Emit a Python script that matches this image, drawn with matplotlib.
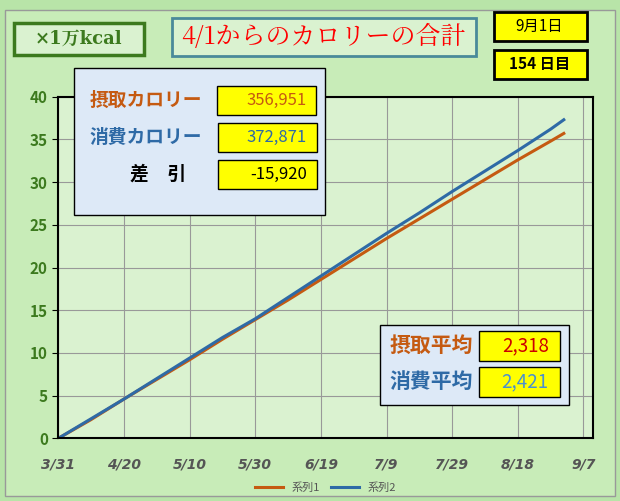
import matplotlib
matplotlib.use("Agg")
import matplotlib.pyplot as plt
from matplotlib.patches import Rectangle
import numpy as np

plt.rcParams['font.family'] = ['Noto Sans CJK JP', 'DejaVu Sans']

days = [0, 10, 20, 30, 40, 50, 60, 70, 80, 90, 100, 110, 120, 130, 140, 150, 154]
series1 = [0, 2.2, 4.6, 6.9, 9.2, 11.6, 13.9, 16.2, 18.6, 21.0, 23.4, 25.7, 28.0, 30.3, 32.6, 34.8, 35.7]
series2 = [0, 2.3, 4.6, 7.0, 9.4, 11.8, 14.0, 16.5, 19.0, 21.5, 24.0, 26.4, 28.9, 31.3, 33.7, 36.2, 37.3]
xticks = [0, 20, 40, 60, 80, 100, 120, 140, 160]
xlabels = ['3/31', '4/20', '5/10', '5/30', '6/19', '7/9', '7/29', '8/18', '9/7']
names = ['系列1', '系列2']
colors = ['#c55a11', '#2e6aa6']

fig = plt.figure(figsize=(6.2, 5.01), dpi=100)
fig.patch.set_facecolor('#b8e4a8')
fig.add_artist(Rectangle((0.008, 0.01), 0.984, 0.97, transform=fig.transFigure,
                         facecolor='#c8ecb8', edgecolor='#999999', lw=1, zorder=-10))
ax = fig.add_axes([0.094, 0.125, 0.863, 0.682])
ax.set_facecolor('#daf2d0')
for s, c, n in zip([series1, series2], colors, names):
    ax.plot(days, s, color=c, lw=2.2, label=n)
ax.set_xlim(0, 163)
ax.set_ylim(0, 40)
ax.set_yticks(range(0, 41, 5))
ax.set_xticks(xticks)
ax.set_xticklabels(xlabels, style='italic', fontweight='bold', color='#555555', fontsize=10, family='DejaVu Sans')
ax.tick_params(axis='y', labelcolor='#3c7a1e', labelsize=11, length=4)
for l in ax.get_yticklabels():
    l.set_fontweight('bold')
ax.tick_params(axis='x', length=0, pad=14)
ax.grid(True, color='#999999', lw=0.8)
for sp in ax.spines.values():
    sp.set_color('black'); sp.set_linewidth(1.5)
ax.legend(loc='upper center', bbox_to_anchor=(0.5, -0.1), ncol=2, frameon=False,
          fontsize=8, labelcolor='#555555', handlelength=2.5, columnspacing=1)

def box(x, y, w, h, fc, ec, lw=1.5, tr=fig.transFigure):
    fig.add_artist(Rectangle((x, y), w, h, transform=tr, facecolor=fc, edgecolor=ec, lw=lw, zorder=5))

def txt(*a, **k):
    k.setdefault('zorder', 6)
    fig.text(*a, **k)

# top labels
box(0.022, 0.89, 0.21, 0.065, '#daf2d0', '#3c7a1e', 2.5)
txt(0.127, 0.922, '×1万kcal', ha='center', va='center', fontsize=13, color='#3c7a1e',
    fontweight='bold', family=['DejaVu Serif', 'Noto Serif CJK JP', 'Noto Sans CJK JP'])
box(0.277, 0.888, 0.49, 0.077, '#daf2d0', '#4a8a9a', 2)
txt(0.522, 0.926, '4/1からのカロリーの合計', ha='center', va='center', fontsize=18, color='red',
    family=['Noto Serif CJK JP', 'Noto Sans CJK JP'])
box(0.797, 0.918, 0.15, 0.058, 'yellow', 'black', 2)
txt(0.87, 0.947, '9月1日', ha='center', va='center', fontsize=11)
box(0.797, 0.843, 0.15, 0.058, 'yellow', 'black', 2)
txt(0.87, 0.872, '154 日目', ha='center', va='center', fontsize=11, fontweight='bold')

# stats box top
box(0.119, 0.570, 0.405, 0.295, '#dde9f7', 'black', 1)
rows = [('摂取カロリー', '356,951', '#c55a11', '#c55a11'),
        ('消費カロリー', '372,871', '#2e6aa6', '#2e6aa6'),
        ('差　引', '-15,920', 'black', 'black')]
for i, (lab, val, lc, vc) in enumerate(rows):
    yc = 0.800 - i * 0.074
    txt(0.235 if i < 2 else 0.255, yc, lab, ha='center', va='center', fontsize=13.5,
        color=lc, fontweight='bold')
    box(0.35 + 0.001 * i, yc - 0.029, 0.16, 0.058, 'yellow', 'black', 1)
    txt(0.495, yc, val, ha='right', va='center', fontsize=12, color=vc)

# stats box bottom
box(0.613, 0.191, 0.305, 0.16, '#dde9f7', 'black', 1)
rows2 = [('摂取平均', '2,318', '#c55a11', '#cc0000'), ('消費平均', '2,421', '#2e6aa6', '#4a90d0')]
for i, (lab, val, lc, vc) in enumerate(rows2):
    yc = 0.31 - i * 0.072
    txt(0.695, yc, lab, ha='center', va='center', fontsize=15, color=lc, fontweight='bold')
    box(0.773, yc - 0.03, 0.13, 0.06, 'yellow', 'black', 1)
    txt(0.885, yc, val, ha='right', va='center', fontsize=13.5, color=vc)

fig.savefig('out.png', dpi=100, facecolor=fig.get_facecolor())
